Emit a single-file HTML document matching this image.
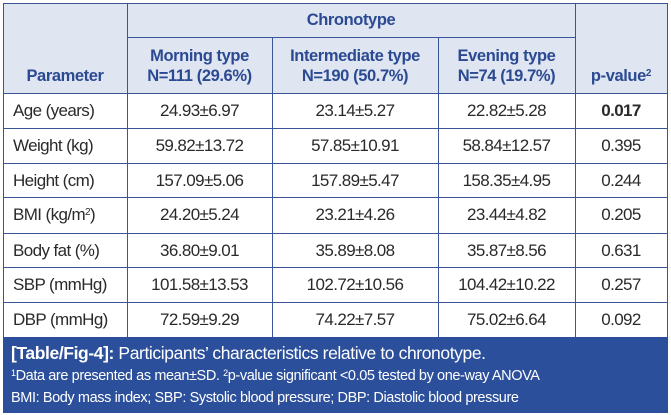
<!DOCTYPE html><html><head><style>
body{margin:0;width:671px;height:415px;background:#fff;font-family:"Liberation Sans",sans-serif;position:relative;overflow:hidden}
.a{position:absolute}
.h{background:#dfe5f1}
.l{position:absolute;background:#3a5596}
.t{position:absolute;font-size:17px;color:#2a2a2a;text-align:center;line-height:35px;letter-spacing:-0.6px}
.hd{position:absolute;color:#2b4a92;font-size:16.5px;font-weight:bold;text-align:center;line-height:20px;letter-spacing:-0.4px}
sup{line-height:0;vertical-align:0;position:relative;top:-0.5em}
</style></head><body>
<div class="a h" style="left:3px;top:3px;width:664px;height:90px"></div>
<div class="l" style="left:3px;top:3px;width:665px;height:1px"></div>
<div class="l" style="left:127px;top:37px;width:448px;height:1px"></div>
<div class="l" style="left:3px;top:93px;width:665px;height:1px"></div>
<div class="l" style="left:3px;top:128px;width:665px;height:1px"></div>
<div class="l" style="left:3px;top:163px;width:665px;height:1px"></div>
<div class="l" style="left:3px;top:197px;width:665px;height:1px"></div>
<div class="l" style="left:3px;top:233px;width:665px;height:1px"></div>
<div class="l" style="left:3px;top:267px;width:665px;height:1px"></div>
<div class="l" style="left:3px;top:302px;width:665px;height:1px"></div>
<div class="l" style="left:3px;top:3px;width:1px;height:334px"></div>
<div class="l" style="left:127px;top:3px;width:1px;height:334px"></div>
<div class="l" style="left:272px;top:37px;width:1px;height:300px"></div>
<div class="l" style="left:438px;top:37px;width:1px;height:300px"></div>
<div class="l" style="left:575px;top:3px;width:1px;height:334px"></div>
<div class="l" style="left:667px;top:3px;width:1px;height:334px"></div>
<div class="hd" style="left:127px;top:10px;width:448px">Chronotype</div>
<div class="hd" style="left:3px;top:66px;width:124px">Parameter</div>
<div class="hd" style="left:127px;top:46px;width:145px">Morning type<br>N=111 (29.6%)</div>
<div class="hd" style="left:272px;top:46px;width:166px">Intermediate type<br>N=190 (50.7%)</div>
<div class="hd" style="left:438px;top:46px;width:137px">Evening type<br>N=74 (19.7%)</div>
<div class="hd" style="left:575px;top:66px;width:92px">p-value<sup style="font-size:10px">2</sup></div>
<div id="rows"></div>
<script>
var r=[["Age (years)","24.93±6.97","23.14±5.27","22.82±5.28","<b>0.017</b>"],
["Weight (kg)","59.82±13.72","57.85±10.91","58.84±12.57","0.395"],
["Height (cm)","157.09±5.06","157.89±5.47","158.35±4.95","0.244"],
["BMI (kg/m<sup style='font-size:10px'>2</sup>)","24.20±5.24","23.21±4.26","23.44±4.82","0.205"],
["Body fat (%)","36.80±9.01","35.89±8.08","35.87±8.56","0.631"],
["SBP (mmHg)","101.58±13.53","102.72±10.56","104.42±10.22","0.257"],
["DBP (mmHg)","72.59±9.29","74.22±7.57","75.02±6.64","0.092"]];
var y=[93,128,163,197,233,267,302],x=[[13,113],[127,145],[272,166],[438,137],[575,92]],h="";
r.forEach(function(row,i){row.forEach(function(c,j){h+='<div class="t" style="top:'+y[i]+'px;left:'+x[j][0]+'px;width:'+x[j][1]+'px;'+(j==0?'text-align:left':'')+'">'+c+'</div>'})});
document.getElementById('rows').innerHTML=h;
</script>
<div class="a" style="left:3px;top:337px;width:665px;height:76px;background:#2c4f9b;color:#fff">
<div class="a" style="left:8px;top:6px;font-size:17.5px;white-space:nowrap;letter-spacing:-0.4px"><b>[Table/Fig-4]:</b> Participants’ characteristics relative to chronotype.</div>
<div class="a" style="left:8px;top:31px;font-size:14.5px;white-space:nowrap;letter-spacing:-0.4px"><sup style="font-size:9px">1</sup>Data are presented as mean±SD. <sup style="font-size:9px">2</sup>p-value significant &lt;0.05 tested by one-way ANOVA</div>
<div class="a" style="left:8px;top:53px;font-size:14.5px;white-space:nowrap;letter-spacing:-0.4px">BMI: Body mass index; SBP: Systolic blood pressure; DBP: Diastolic blood pressure</div>
</div>
</body></html>
